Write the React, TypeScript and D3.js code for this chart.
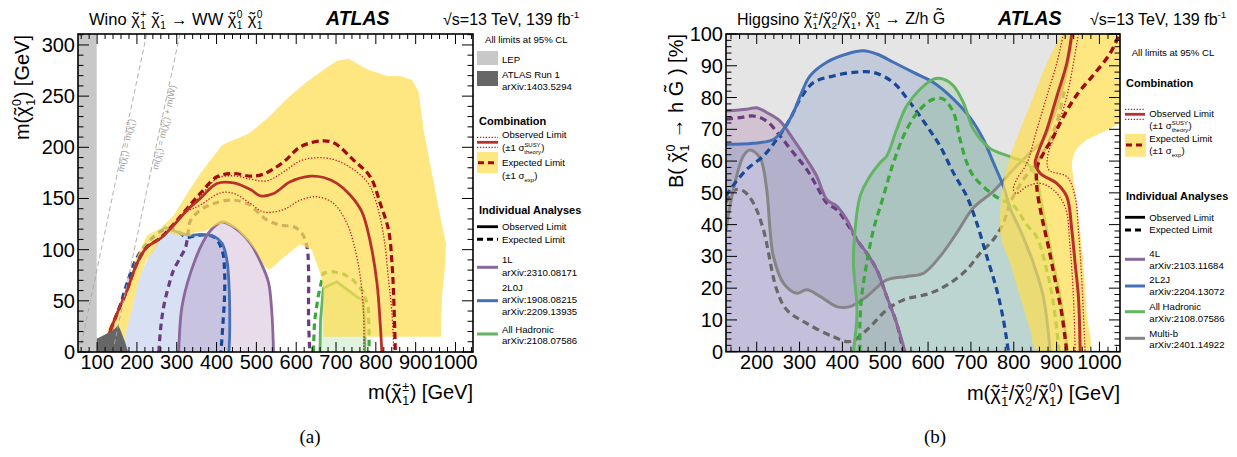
import React from "react";
import * as d3 from "d3";

type P = [number, number];
const FONT = "'Liberation Sans', Arial, Helvetica, sans-serif";

// ---------------- Left panel (Wino) ----------------
const leftXTicks = [100, 200, 300, 400, 500, 600, 700, 800, 900, 1000];
const leftYTicks = [0, 50, 100, 150, 200, 250, 300];
const lepRange = [52, 99];
const run1Region: P[] = [[99, 0], [99, 13], [115, 16], [130, 19], [145, 23], [153, 26.5], [158, 22], [163, 17], [170, 10], [178, 0]];
const diagMM: P[] = [[56, 0], [224.5, 310.7]];
const diagMMW: P[] = [[139, 0], [308, 310.7]];

const obs2L0J: P[] = [[162, 0], [174, 22], [191, 48], [208, 74], [226, 90], [250, 108], [267, 122], [301, 117.4], [334, 114], [359, 115], [393, 113], [414, 106], [426, 89.7], [431, 66.8], [433, 21], [431, 0]];
const exp2L0J: P[] = [[125, 0], [140, 25], [160, 48], [175, 67], [200, 92], [230, 108], [260, 118], [280, 121], [305, 117], [325, 112], [351, 114], [393, 112.5], [414, 99.4], [420, 80], [420, 53.8], [416, 27.7], [411, 0]];
const obs1L: P[] = [[305, 0], [313, 44], [334, 76.6], [368, 109], [393, 122], [414, 127], [443, 122], [485, 106], [518, 81.5], [531, 67], [539, 37.5], [543, 0]];
const exp1L: P[] = [[255, 0], [259, 21], [267, 44], [280, 65], [292, 80], [310, 93], [322, 102], [328, 115], [334, 128], [359, 138.6], [393, 145], [435, 148.4], [477, 145], [527, 128.8], [560, 124], [594, 122.3], [615, 115.7], [627, 103], [631, 80], [631, 34], [634, 0]];
const obsHadL: P[] = [[659.6, 0], [661, 31], [668, 62.2], [701.5, 68.7], [751.7, 54], [768.3, 50.8], [772, 30], [772.6, 0]];
const expHadL: P[] = [[643, 0], [646, 30], [655, 54], [668, 77], [693, 78.5], [720, 76], [743, 70.4], [768, 59], [781, 44.3], [783, 20], [783, 0]];

const yellowOuterL: P[] = [[112, 0], [125, 21], [146, 37.5], [171, 57], [196, 89.7], [225.5, 114.1], [259, 120.6], [292.5, 133.7], [326, 154.9], [359, 174.4], [414, 202.2], [481, 213.6], [527, 228.2], [577, 247.8], [627, 264.1], [673, 277.1], [702.5, 284.6], [732, 286.6], [778, 276.2], [828, 269.6], [861.5, 269.6], [891, 265.7], [907.5, 254.3], [920, 216.8], [941, 174.4], [962, 132], [976, 106], [974.5, 86.4], [966, 53.8], [963.6, 15]];
const yellowInnerL: P[] = [[668, 15], [668, 64], [660, 77], [639, 100], [609, 105], [567, 92], [534, 80], [520, 84], [500, 98], [480, 108], [450, 120], [420, 126], [400, 124], [370, 118], [345, 117], [334, 113], [300, 114], [268, 118], [245, 100], [224, 90], [208, 74], [191, 48], [174, 22], [162, 0]];

const combObsL: P[] = [[122, 0], [125, 11.4], [150, 37.5], [175, 60.3], [200, 86.4], [225.5, 102.7], [259, 110.9], [292.5, 123.9], [326, 138.6], [359, 150], [401, 164.7], [443, 165.3], [485, 158.8], [510, 152.6], [543.5, 154.9], [585, 166.3], [635.6, 171.8], [669, 170.5], [702.5, 164.7], [736, 153.2], [765, 136.9], [786, 107.6], [803, 66.8], [811, 27.7], [815, 0]];
const combExpL: P[] = [[122, 0], [125, 11.4], [150, 37.5], [175, 60.3], [200, 86.4], [225.5, 102.7], [259, 111.5], [292.5, 125], [326, 140.2], [359, 154.9], [401, 171.2], [443, 174.4], [485, 171.8], [518, 173.8], [568.6, 185.8], [610.5, 200.5], [660.7, 206.1], [694, 204.4], [744, 187.5], [786, 171.2], [811, 145.1], [832, 119], [840.6, 86.4], [844.8, 53.8], [849, 0]];
const combUpL: P[] = [[122, 0], [125, 11.4], [150, 37.5], [175, 60.3], [200, 86.4], [225.5, 102.7], [259, 111], [292.5, 124], [326, 139.5], [359, 152], [401, 169.5], [443, 172.2], [485, 168.9], [527, 167.3], [568.6, 176.1], [610.5, 186.8], [652, 189.8], [694, 188.1], [736, 180.3], [778, 166.3], [799, 148.4], [820, 112.5], [832, 70.1], [840.6, 37.5], [845, 0]];
const combDnL: P[] = [[122, 0], [125, 11.4], [150, 37.5], [175, 60.3], [200, 86.4], [225.5, 102.7], [259, 110.5], [292.5, 123.5], [326, 137], [359, 143.5], [410, 155.5], [443, 154.9], [485, 145.1], [518, 136.9], [568.6, 139.2], [610.5, 148.4], [652, 151.6], [694, 145.1], [727.6, 125.5], [744.4, 106], [761, 73.4], [769.5, 34.2], [769.5, 0]];

// ---------------- Right panel (Higgsino) ----------------
const rightXTicks = [200, 300, 400, 500, 600, 700, 800, 900, 1000];
const rightYTicks = [0, 10, 20, 30, 40, 50, 60, 70, 80, 90, 100];

const obsMultib: P[] = [[128.3, 38.4], [145.5, 51], [168.9, 61.6], [184.4, 63.5], [207.8, 61], [223.3, 51], [231.1, 38.4], [238.9, 30], [262.3, 21.6], [293.4, 18.4], [316.7, 19.5], [347.9, 17.4], [386.8, 14.2], [417.9, 14.2], [456.8, 17.4], [503.5, 22.6], [550.2, 23.7], [589.1, 24.7], [628, 30], [666.9, 37.4], [705.8, 45.3], [752.5, 50.5], [799.2, 57.4], [838.1, 62.6], [869.3, 66.8], [892.6, 74], [915.9, 84.4], [931.5, 94.9], [936, 100]];
const expMultib: P[] = [[128.3, 47], [150, 51], [170, 50.5], [192.2, 46.8], [215.6, 38.4], [246.7, 19.5], [270, 13.2], [316.7, 8.9], [379, 4.7], [417.9, 3.2], [456.8, 6.8], [503.5, 13.2], [542.4, 16.3], [604.7, 18.4], [651.4, 21.6], [690.3, 25.8], [721.4, 31], [752.5, 35.3], [775.9, 40.5], [791.4, 46.8], [822.6, 54.2], [853.7, 59.5], [877, 64.7], [900, 72], [918, 82]];
const obs4L: P[] = [[128.3, 75.8], [176.7, 76.3], [200, 76.8], [223.3, 75.3], [254.5, 72.6], [285.6, 66.8], [316.7, 60.5], [340, 55.3], [363.4, 47.9], [386.8, 45.8], [410.1, 41.6], [433.5, 35.3], [456.8, 31.1], [480.2, 25.8], [503.5, 17.4], [526.8, 8.9], [546.3, 0]];
const exp4L: P[] = [[128.3, 73.2], [161, 73.7], [192.2, 74.2], [223.3, 72.6], [254.5, 67.9], [285.6, 62.6], [316.7, 57.4], [340, 52.1], [363.4, 46.8], [386.8, 44.7], [410.1, 40.5], [433.5, 35.3], [456.8, 31], [480.2, 25.8], [503.5, 17.4], [526.8, 8.9], [542.4, 0]];
const obs2L2J: P[] = [[128.3, 65.3], [192.2, 65.6], [238.9, 66.8], [262.3, 70], [285.6, 75.3], [305, 81.6], [324.5, 86.8], [363.4, 91.1], [410.1, 93.7], [449, 94.7], [480.2, 93.7], [519.1, 91.1], [565.8, 87.9], [612.5, 84.7], [659.1, 79.5], [698, 73.7], [729.2, 66.8], [752.5, 59.5], [776, 52], [792, 45], [815, 38.3], [846, 27.8], [869, 17.3], [885, 0]];
const exp2L2J: P[] = [[128.3, 49], [137.7, 51], [176.7, 57.4], [215.6, 61.6], [246.7, 66.8], [277.8, 73.2], [301.2, 79.5], [332.3, 84.7], [379, 86.8], [425.7, 87.9], [472.4, 87.9], [519.1, 84.7], [558, 78.4], [596.9, 71.1], [628, 64.7], [659.1, 56.3], [690.3, 48.9], [713.6, 40.5], [737, 30], [760.3, 19.5], [775.9, 10], [787.5, 0]];
const obsHadR: P[] = [[425.7, 0], [433.5, 10], [433.5, 15.3], [425.7, 27.9], [429.6, 38.4], [441.2, 48.9], [464.6, 55.3], [488, 59.5], [503.5, 61.6], [526.8, 70], [550.2, 77.4], [581.3, 82.6], [612.5, 85.8], [635.8, 85.8], [659.1, 83.7], [682.5, 78.4], [705.8, 70], [744.7, 64], [791.4, 61.4], [830.4, 59.3], [853.7, 55], [861.5, 49], [877, 38.3], [892.6, 27.8], [908, 17.3], [920, 6.8], [925, 0]];
const expHadR: P[] = [[441, 0], [441, 9], [445, 17.4], [456.8, 27.9], [472.4, 38.4], [495.7, 48.9], [519.1, 59.5], [550.2, 70], [581.3, 76.3], [612.5, 79.5], [635.8, 79.5], [659.1, 75.3], [674.7, 66.8], [690.3, 59.5], [705.8, 55.3], [737, 51], [768.1, 48], [799, 46], [830, 40], [854, 36], [877, 25.7], [892.6, 15.2], [906, 0]];
const yellowR: P[] = [[912, 100], [877, 90.8], [845.9, 80.3], [814.8, 69.8], [791.4, 61.4], [775.9, 53], [768.1, 43.6], [770, 36], [791.4, 27.8], [814.8, 17.3], [838.2, 6.8], [855, 0], [974.2, 0], [970.3, 12], [962.5, 27.8], [954.7, 38.3], [946.9, 46.7], [939.1, 55.1], [936, 59.3], [945, 63.5], [970.2, 66.6], [1001.4, 68.7], [1032.5, 70.8], [1048, 72.9], [1048, 100]];
const combObsR: P[] = [[935.5, 100], [923.8, 90.8], [900.4, 80.3], [877, 69.8], [856, 62.4], [850, 59.3], [861.5, 56.2], [900.4, 53], [923.8, 48.8], [935.5, 38.3], [943.2, 27.8], [950.9, 17.3], [955, 0]];
const combExpR: P[] = [[1044, 99.2], [1024.9, 93.9], [985.9, 87.1], [947.1, 80.8], [915.9, 74], [892.5, 67.7], [869.2, 62.4], [855, 58.3], [853.7, 52], [865.4, 42.5], [881, 33], [896.5, 22.6], [912.1, 12], [923.8, 0]];
const combDnR: P[] = [[915.9, 100], [900.4, 90.8], [877, 80.3], [853.7, 69.8], [830.4, 59.3], [806, 54], [799.2, 51], [806, 49.8], [830.4, 52], [861.5, 53], [892.6, 50.9], [919.8, 45.6], [931.5, 33], [939.3, 17.3], [943.2, 0]];
const combUpR: P[] = [[950.9, 100], [939.3, 90.8], [923.8, 80.3], [900.4, 69.8], [879, 61.4], [882, 57.2], [923.8, 55.1], [943.2, 48.8], [950.9, 38.3], [958.7, 22.6], [966.5, 0]];

// ---------------- styling ----------------
const COL = {
  purple: "#8a6899", purpleDash: "#6a3b80",
  blue: "#4670b6", blueDash: "#18489a",
  green: "#63b563", greenDash: "#3aa83a",
  grey: "#858585", greyDash: "#686868",
  red: "#b8302a", redDash: "#a00c0c", redDot: "#c8102a",
  yellow: "rgb(253,222,80)",
};
const YOP = 0.72;

// --------------- rich text -----------------
type Tok = string | { chi: true; sup?: string; sub?: string } | { tilde: string } | { sup?: string; sub?: string };
const CW: Record<string, number> = { "+": 0.584, "-": 0.333, "−": 0.584, "±": 0.549, S: 0.667, U: 0.722, Y: 0.667, t: 0.278, r: 0.333, y: 0.5, x: 0.5, G: 0.778, h: 0.556, e: 0.556, o: 0.556, p: 0.556 };
const tw = (s: string) => Array.from(s).reduce((a, c) => a + (CW[c] ?? 0.556), 0);

function rich(toks: Tok[], F: number): React.ReactNode[] {
  const out: React.ReactNode[] = [];
  let cur = 0, pend = 0, k = 0;
  const push = (text: string, o: { off?: number; fs?: number; dx?: number } = {}) => {
    const off = o.off ?? 0;
    const dy = off - cur; cur = off;
    const dx = (o.dx ?? 0) + pend; pend = 0;
    out.push(<tspan key={k++} dx={dx ? dx.toFixed(2) : undefined} dy={dy ? dy.toFixed(2) : undefined} fontSize={o.fs ?? F}>{text}</tspan>);
  };
  const stack = (sup?: string, sub?: string, lead = 0) => {
    const fs = 0.62 * F;
    const ws = sup ? tw(sup) * fs : 0;
    const wb = sub ? tw(sub) * fs : 0;
    if (sup) push(sup, { off: -0.42 * F, fs, dx: lead });
    if (sub) push(sub, { off: 0.28 * F, fs, dx: sup ? -ws : lead });
    pend += Math.max(0, ws - (sub ? wb : ws)) + 0.03 * F;
  };
  for (const t of toks) {
    if (typeof t === "string") push(t);
    else if ("chi" in t) {
      push("χ");
      push("˜", { dx: -0.4165 * F, off: -0.05 * F });
      stack(t.sup, t.sub, 0.0835 * F + 0.02 * F);
    } else if ("tilde" in t) {
      const w = tw(t.tilde);
      push(t.tilde);
      push("˜", { dx: -((w + 0.333) / 2) * F, off: -0.25 * F });
      pend += ((w - 0.333) / 2) * F;
    } else stack(t.sup, t.sub, 0);
  }
  return out;
}

const C = (sup?: string, sub?: string): Tok => ({ chi: true, sup, sub });

// ----------- helpers -----------
function mkLine(xs: d3.ScaleLinear<number, number>, ys: d3.ScaleLinear<number, number>, curve: d3.CurveFactory) {
  return d3.line<P>().x((d) => xs(d[0])).y((d) => ys(d[1])).curve(curve);
}

function Ticks({ xs, ys, xMaj, xMin, yMaj, yMin }: { xs: d3.ScaleLinear<number, number>; ys: d3.ScaleLinear<number, number>; xMaj: number[]; xMin: number[]; yMaj: number[]; yMin: number[] }) {
  const [x0, x1] = xs.range();
  const [y1, y0] = ys.range();
  const els: React.ReactNode[] = [];
  let k = 0;
  const add = (a: number, b: number, c: number, d: number) => els.push(<line key={k++} x1={a} y1={b} x2={c} y2={d} />);
  for (const v of xMaj) { const x = xs(v); add(x, y1, x, y1 - 10); add(x, y0, x, y0 + 10); }
  for (const v of xMin) { const x = xs(v); add(x, y1, x, y1 - 5); add(x, y0, x, y0 + 5); }
  for (const v of yMaj) { const y = ys(v); add(x0, y, x0 + 11, y); add(x1, y, x1 - 11, y); }
  for (const v of yMin) { const y = ys(v); add(x0, y, x0 + 5.5, y); add(x1, y, x1 - 5.5, y); }
  return (
    <g stroke="#000" strokeWidth={1}>
      {els}
      <rect x={x0} y={y0} width={x1 - x0} height={y1 - y0} fill="none" strokeWidth={1.6} />
    </g>
  );
}

const LEG = 9.6;

export default function App() {
  const xL = d3.scaleLinear().domain([52, 1044]).range([78, 473]);
  const yL = d3.scaleLinear().domain([0, 310.7]).range([352, 34]);
  const xR = d3.scaleLinear().domain([128.3, 1048]).range([726, 1120]);
  const yR = d3.scaleLinear().domain([0, 100]).range([351.7, 34]);

  const cr = d3.curveCatmullRom.alpha(0.5);
  const sL = mkLine(xL, yL, cr);
  const lL = mkLine(xL, yL, d3.curveLinear);
  const sR = mkLine(xR, yR, cr);

  const closeTo = (pts: P[], xs: any, ys: any) => pts.map((p) => `L${xs(p[0])},${ys(p[1])}`).join("") + "Z";

  const minorL = d3.range(60, 1044, 20).filter((v) => v % 100 !== 0);
  const minorLy = d3.range(0, 311, 10).filter((v) => v % 50 !== 0);
  const minorR = d3.range(140, 1048, 20).filter((v) => v % 100 !== 0);
  const minorRy = d3.range(0, 101, 2).filter((v) => v % 10 !== 0);

  const sol = (w = 2.8) => ({ fill: "none", strokeWidth: w, strokeLinejoin: "round" as const });
  const dsh = (w = 3.2, da = "6.5,4.5") => ({ fill: "none", strokeWidth: w, strokeDasharray: da });

  return (
    <div style={{ position: "absolute", left: 0, top: 0 }}>
      <svg width={1237} height={457} fontFamily={FONT} style={{ display: "block", whiteSpace: "pre" }}>
        <rect width={1237} height={457} fill="#fff" />
        <defs>
          <clipPath id="clipL"><rect x={78} y={34} width={395} height={318} /></clipPath>
          <clipPath id="clipR"><rect x={726} y={34} width={394} height={317.7} /></clipPath>
        </defs>

        {/* ============ LEFT PANEL ============ */}
        <g clipPath="url(#clipL)">
          <rect x={xL(lepRange[0])} y={yL(310.7)} width={xL(lepRange[1]) - xL(lepRange[0])} height={yL(0) - yL(310.7)} fill="#c8c8c8" />
          <path d={sL(obs2L0J)! + "Z"} fill="rgb(60,100,200)" fillOpacity={0.2} />
          <path d={sL(obs1L)! + "Z"} fill="rgb(140,80,150)" fillOpacity={0.2} />
          <path d={lL(obsHadL)! + "Z"} fill="rgb(100,190,100)" fillOpacity={0.2} />
          <path d={sL(exp2L0J)!} stroke={COL.blueDash} {...dsh()} />
          <path d={sL(obs2L0J.slice(6))!} stroke={COL.blue} {...sol()} />
          <path d={sL(exp1L)!} stroke={COL.purpleDash} {...dsh()} />
          <path d={sL(obs1L)!} stroke={COL.purple} {...sol()} />
          <path d={lL(expHadL)!} stroke={COL.greenDash} {...dsh()} />
          <path d={lL(obsHadL)!} stroke={COL.green} {...sol()} />
          <path d={lL(yellowOuterL)! + closeTo(yellowInnerL, xL, yL)} fill={COL.yellow} fillOpacity={YOP} />
          <path d={sL(combUpL)!} stroke={COL.redDot} fill="none" strokeWidth={1.3} strokeDasharray="1.3,1.8" />
          <path d={sL(combDnL)!} stroke={COL.redDot} fill="none" strokeWidth={1.3} strokeDasharray="1.3,1.8" />
          <path d={sL(combExpL)!} stroke={COL.redDash} {...dsh(3.2, "7,4")} />
          <path d={sL(combObsL)!} stroke={COL.red} {...sol(2.8)} />
          <path d={lL(run1Region)! + "Z"} fill="#666" />
          <path d={lL(diagMM)!} stroke="#a8a8a8" strokeWidth={0.9} strokeDasharray="5,3" fill="none" />
          <path d={lL(diagMMW)!} stroke="#a8a8a8" strokeWidth={0.9} strokeDasharray="5,3" fill="none" />
        </g>
        <text transform="translate(129,146) rotate(-78)" textAnchor="middle" fill="#a0a0a0" fontSize={9}>
          {rich(["m(", C("±", "1"), ") = m(", C("0", "1"), ")"], 9)}
        </text>
        <text transform="translate(167,128) rotate(-78)" textAnchor="middle" fill="#a0a0a0" fontSize={9}>
          {rich(["m(", C("±", "1"), ") = m(", C("0", "1"), ") + m(W)"], 9)}
        </text>
        <Ticks xs={xL} ys={yL} xMaj={leftXTicks} xMin={minorL} yMaj={leftYTicks} yMin={minorLy} />
        <g fontSize={20} textAnchor="middle">
          {leftXTicks.map((v) => <text key={v} x={xL(v)} y={369}>{v}</text>)}
        </g>
        <g fontSize={20} textAnchor="end">
          {leftYTicks.map((v) => <text key={v} x={75} y={yL(v) + 7}>{v}</text>)}
        </g>
        <text x={473} y={399} fontSize={20} textAnchor="end">{rich(["m(", C("±", "1"), ") [GeV]"], 20)}</text>
        <text transform="translate(29,35) rotate(-90)" fontSize={20} textAnchor="end">{rich(["m(", C("0", "1"), ") [GeV]"], 20)}</text>
        <text x={89} y={24.5} fontSize={16.5}>{rich(["Wino ", C("+", "1"), " ", C("-", "1"), " → WW ", C("0", "1"), " ", C("0", "1")], 16.5)}</text>
        <text x={326} y={24.5} fontSize={19.5} fontWeight="bold" fontStyle="italic">ATLAS</text>
        <text x={443} y={24.5} fontSize={16}>{rich(["√s=13 TeV, 139 fb", { sup: "-1" }], 16)}</text>

        <g fontSize={LEG}>
          <text x={485} y={42.5}>All limits at 95% CL</text>
          <rect x={477} y={51} width={21} height={14} fill="#c8c8c8" />
          <text x={502} y={63}>LEP</text>
          <rect x={477} y={71} width={21} height={15} fill="#666" />
          <text x={502} y={78}>ATLAS Run 1</text>
          <text x={502} y={90}>arXiv:1403.5294</text>
          <text x={479} y={125} fontSize={11} fontWeight="bold">Combination</text>
          <line x1={477} x2={498} y1={137.3} y2={137.3} stroke={COL.redDot} strokeWidth={1.2} strokeDasharray="1.3,1.6" />
          <line x1={477} x2={498} y1={147.3} y2={147.3} stroke={COL.redDot} strokeWidth={1.2} strokeDasharray="1.3,1.6" />
          <line x1={477} x2={498} y1={142.3} y2={142.3} stroke={COL.red} strokeWidth={2.8} />
          <text x={502} y={137.5}>Observed Limit</text>
          <text x={502} y={151}>{rich(["(±1 σ", { sup: "SUSY", sub: "theory" }, ")"], LEG)}</text>
          <rect x={477} y={152} width={21} height={21} fill={COL.yellow} fillOpacity={YOP} />
          <line x1={478} x2={497} y1={162.7} y2={162.7} stroke={COL.redDash} strokeWidth={3} strokeDasharray="6,4" />
          <text x={502} y={166}>Expected Limit</text>
          <text x={502} y={179}>{rich(["(±1 σ", { sub: "exp" }, ")"], LEG)}</text>
          <text x={479} y={213.5} fontSize={11} fontWeight="bold">Individual Analyses</text>
          <line x1={477} x2={498} y1={226.7} y2={226.7} stroke="#000" strokeWidth={2.8} />
          <text x={502} y={230}>Observed Limit</text>
          <line x1={477} x2={498} y1={239.3} y2={239.3} stroke="#000" strokeWidth={3} strokeDasharray="6,4" />
          <text x={502} y={242.7}>Expected Limit</text>
          <line x1={477} x2={498} y1={267.3} y2={267.3} stroke={COL.purple} strokeWidth={3} />
          <text x={502} y={263.3}>1L</text>
          <text x={502} y={276}>arXiv:2310.08171</text>
          <line x1={477} x2={498} y1={300.7} y2={300.7} stroke={COL.blue} strokeWidth={3} />
          <text x={502} y={291}>2L0J</text>
          <text x={502} y={303.3}>arXiv:1908.08215</text>
          <text x={502} y={315}>arXiv:2209.13935</text>
          <line x1={477} x2={498} y1={334} y2={334} stroke={COL.green} strokeWidth={3} />
          <text x={502} y={332.7}>All Hadronic</text>
          <text x={502} y={344.3}>arXiv:2108.07586</text>
        </g>
        <text x={310} y={443} fontSize={19} textAnchor="middle" fontFamily="'Liberation Serif', 'DejaVu Serif', serif">(a)</text>

        {/* ============ RIGHT PANEL ============ */}
        <g clipPath="url(#clipR)">
          <path d={sR(obsMultib)! + closeTo([[128.3, 100]], xR, yR)} fill="#000" fillOpacity={0.1} />
          <path d={sR(obs4L)! + closeTo([[128.3, 0]], xR, yR)} fill="rgb(128,60,128)" fillOpacity={0.2} />
          <path d={sR(obs2L2J)! + closeTo([[128.3, 0]], xR, yR)} fill="rgb(60,100,180)" fillOpacity={0.2} />
          <path d={sR(obsHadR)! + "Z"} fill="rgb(80,170,80)" fillOpacity={0.2} />
          <path d={sR(expMultib)!} stroke={COL.greyDash} {...dsh(3.2, "7,4.5")} />
          <path d={sR(obsMultib)!} stroke={COL.grey} {...sol(3)} />
          <path d={sR(exp4L)!} stroke={COL.purpleDash} {...dsh(3.2, "7,4.5")} />
          <path d={sR(obs4L)!} stroke={COL.purple} {...sol(3)} />
          <path d={sR(exp2L2J)!} stroke={COL.blueDash} {...dsh(3.2, "7,4.5")} />
          <path d={sR(obs2L2J)!} stroke={COL.blue} {...sol(3)} />
          <path d={sR(expHadR)!} stroke={COL.greenDash} {...dsh(3.2, "7,4.5")} />
          <path d={sR(obsHadR)!} stroke={COL.green} {...sol(3)} />
          <path d={sR(yellowR)! + "Z"} fill={COL.yellow} fillOpacity={YOP} />
          <path d={sR(combUpR)!} stroke={COL.redDot} fill="none" strokeWidth={1.3} strokeDasharray="1.3,1.8" />
          <path d={sR(combDnR)!} stroke={COL.redDot} fill="none" strokeWidth={1.3} strokeDasharray="1.3,1.8" />
          <path d={sR(combExpR)!} stroke={COL.redDash} {...dsh(3.4, "7,4.5")} />
          <path d={sR(combObsR)!} stroke={COL.red} {...sol(3)} />
        </g>
        <Ticks xs={xR} ys={yR} xMaj={rightXTicks} xMin={minorR} yMaj={rightYTicks} yMin={minorRy} />
        <g fontSize={20} textAnchor="middle">
          {rightXTicks.map((v) => <text key={v} x={xR(v)} y={369}>{v}</text>)}
        </g>
        <g fontSize={20} textAnchor="end">
          {rightYTicks.map((v) => <text key={v} x={723} y={yR(v) + 7}>{v}</text>)}
        </g>
        <text x={1120} y={400} fontSize={20} textAnchor="end">{rich(["m(", C("±", "1"), "/", C("0", "2"), "/", C("0", "1"), ") [GeV]"], 20)}</text>
        <text transform="translate(683,34) rotate(-90)" fontSize={20} textAnchor="end">{rich(["B( ", C("0", "1"), " → h ", { tilde: "G" }, " ) [%]"], 20)}</text>
        <text x={737} y={24.5} fontSize={16}>{rich(["Higgsino ", C("±", "1"), "/", C("0", "2"), "/", C("0", "1"), ",  ", C("0", "1"), " → Z/h ", { tilde: "G" }], 16)}</text>
        <text x={998} y={24.5} fontSize={19.5} fontWeight="bold" fontStyle="italic">ATLAS</text>
        <text x={1090} y={24.5} fontSize={16}>{rich(["√s=13 TeV, 139 fb", { sup: "-1" }], 16)}</text>

        <g fontSize={LEG}>
          <text x={1131.7} y={56}>All limits at 95% CL</text>
          <text x={1126} y={87.3} fontSize={11} fontWeight="bold">Combination</text>
          <line x1={1125} x2={1145} y1={109.3} y2={109.3} stroke={COL.redDot} strokeWidth={1.2} strokeDasharray="1.3,1.6" />
          <line x1={1125} x2={1145} y1={119.3} y2={119.3} stroke={COL.redDot} strokeWidth={1.2} strokeDasharray="1.3,1.6" />
          <line x1={1125} x2={1145} y1={114.3} y2={114.3} stroke={COL.red} strokeWidth={2.8} />
          <text x={1149.3} y={116.7}>Observed Limit</text>
          <text x={1149.3} y={129}>{rich(["(±1 σ", { sup: "SUSY", sub: "theory" }, ")"], LEG)}</text>
          <rect x={1125} y={134} width={21} height={22.7} fill={COL.yellow} fillOpacity={YOP} />
          <line x1={1126} x2={1145} y1={145} y2={145} stroke={COL.redDash} strokeWidth={3} strokeDasharray="6,4" />
          <text x={1149.3} y={141.7}>Expected Limit</text>
          <text x={1149.3} y={154}>{rich(["(±1 σ", { sub: "exp" }, ")"], LEG)}</text>
          <text x={1126} y={200} fontSize={11} fontWeight="bold">Individual Analyses</text>
          <line x1={1125} x2={1145} y1={217.3} y2={217.3} stroke="#000" strokeWidth={2.8} />
          <text x={1149.3} y={220.7}>Observed Limit</text>
          <line x1={1125} x2={1145} y1={230} y2={230} stroke="#000" strokeWidth={3} strokeDasharray="6,4" />
          <text x={1149.3} y={233.3}>Expected Limit</text>
          <line x1={1125} x2={1145} y1={259.3} y2={259.3} stroke={COL.purple} strokeWidth={3} />
          <text x={1149.3} y={256.7}>4L</text>
          <text x={1149.3} y={269.3}>arXiv:2103.11684</text>
          <line x1={1125} x2={1145} y1={286} y2={286} stroke={COL.blue} strokeWidth={3} />
          <text x={1149.3} y={283.3}>2L2J</text>
          <text x={1149.3} y={295}>arXiv:2204.13072</text>
          <line x1={1125} x2={1145} y1={311.7} y2={311.7} stroke={COL.green} strokeWidth={3} />
          <text x={1149.3} y={310}>All Hadronic</text>
          <text x={1149.3} y={321.7}>arXiv:2108.07586</text>
          <line x1={1125} x2={1145} y1={338.3} y2={338.3} stroke={COL.grey} strokeWidth={3} />
          <text x={1149.3} y={336.7}>Multi-b</text>
          <text x={1149.3} y={348.3}>arXiv:2401.14922</text>
        </g>
        <text x={935} y={443} fontSize={19} textAnchor="middle" fontFamily="'Liberation Serif', 'DejaVu Serif', serif">(b)</text>
      </svg>
    </div>
  );
}
